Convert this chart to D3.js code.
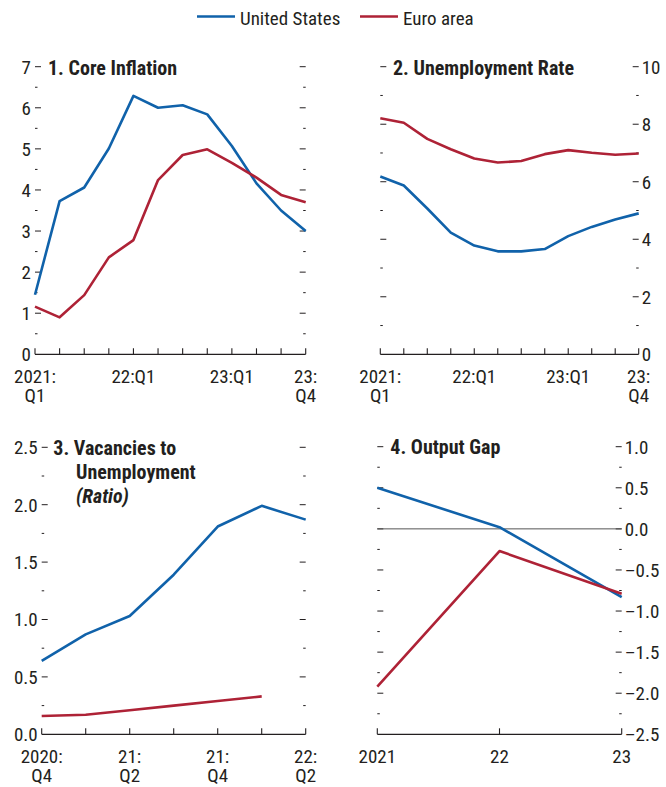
<!DOCTYPE html>
<meta charset="utf-8">
<head>
<style>
body { margin: 0; background: #fff; }
svg text {
  font-family: "Liberation Sans Narrow", "Arial Narrow", "Roboto Condensed", sans-serif;
  fill: #231f20;
}
.lbl { font-size: 19px; }
.ttl { font-size: 20px; font-weight: bold; }
.leg { font-size: 19px; }
</style>
<title>Core inflation, unemployment, vacancies, output gap</title>
</head>
<body>
<svg id="chart" width="666" height="787"></svg>
<script src="https://cdnjs.cloudflare.com/ajax/libs/d3/7.8.5/d3.min.js"></script>
<script>
// ---- data ----
var quarters = ["2021:Q1","2021:Q2","2021:Q3","2021:Q4","2022:Q1","2022:Q2","2022:Q3","2022:Q4","2023:Q1","2023:Q2","2023:Q3","2023:Q4"];
var quarterLabels = {"2021:Q1": ["2021:", "Q1"], "2022:Q1": ["22:Q1"], "2023:Q1": ["23:Q1"], "2023:Q4": ["23:", "Q4"]};

var coreUS = [1.45, 3.73, 4.06, 5.01, 6.29, 6.00, 6.06, 5.84, 5.07, 4.16, 3.50, 3.00];
var coreEA = [1.16, 0.90, 1.44, 2.36, 2.78, 4.24, 4.85, 4.99, 4.66, 4.30, 3.88, 3.70];

var unempUS = [6.18, 5.87, 5.07, 4.23, 3.78, 3.58, 3.58, 3.66, 4.11, 4.43, 4.69, 4.90];
var unempEA = [8.21, 8.05, 7.49, 7.13, 6.81, 6.67, 6.72, 6.96, 7.10, 7.01, 6.94, 6.98];

var vuQuarters = ["2020:Q4","2021:Q1","2021:Q2","2021:Q3","2021:Q4","2022:Q1","2022:Q2"];
var vuLabels = {"2020:Q4": ["2020:", "Q4"], "2021:Q2": ["21:", "Q2"], "2021:Q4": ["21:", "Q4"], "2022:Q2": ["22:", "Q2"]};
var vuUS = [0.64, 0.87, 1.03, 1.39, 1.81, 1.99, 1.87];
var vuEA = [0.16, 0.17, 0.21, 0.25, 0.29, 0.33, null];

var gapYears = ["2021", "2022", "2023"];
var gapLabels = {"2021": ["2021"], "2022": ["22"], "2023": ["23"]};
var gapUS = [0.50, 0.02, -0.83];
var gapEA = [-1.92, -0.27, -0.79];

var seriesNames = ["United States", "Euro area"];
var colors = {"United States": "#1062aa", "Euro area": "#ae2236"};

// ---- drawing ----
var svg = d3.select("#chart");
var ink = "#231f20";

function fmtNum(dec) {
  return function(v) {
    var s = dec ? v.toFixed(1) : String(Math.round(v));
    return s.replace("-", "\u2013");
  };
}

function drawPanel(p) {
  var g = svg.append("g");
  var x = d3.scalePoint().domain(p.cats).range([p.x0, p.x1]);
  var y = d3.scaleLinear().domain(p.domain).range([p.yBot, p.yTop]);

  // y ticks both sides, pointing inward
  var minor = d3.range(p.domain[0], p.domain[1] + 1e-9, p.minor);
  minor.forEach(function(v) {
    if (Math.abs(v - p.domain[0]) < 1e-9) return;
    var isMajor = Math.abs(v / p.major - Math.round(v / p.major)) < 1e-6;
    var len = isMajor ? 6 : 2.5;
    g.append("line").attr("x1", p.x0).attr("x2", p.x0 + len)
      .attr("y1", y(v)).attr("y2", y(v)).attr("stroke", ink).attr("stroke-width", 1);
    g.append("line").attr("x1", p.x1 - len).attr("x2", p.x1)
      .attr("y1", y(v)).attr("y2", y(v)).attr("stroke", ink).attr("stroke-width", 1);
  });

  // y labels
  var majors = d3.range(p.domain[0], p.domain[1] + 1e-9, p.major);
  g.selectAll(".ylab").data(majors).enter().append("text")
    .attr("class", "lbl")
    .attr("x", p.side === "left" ? p.x0 - 4 : p.x1 + 3)
    .attr("y", function(d) { return y(d); })
    .attr("dy", "0.36em")
    .attr("text-anchor", p.side === "left" ? "end" : "start")
    .text(fmtNum(p.dec));

  // zero line
  if (p.domain[0] < 0) {
    g.append("line").attr("x1", p.x0).attr("x2", p.x1)
      .attr("y1", y(0)).attr("y2", y(0)).attr("stroke", "#555").attr("stroke-width", 1);
  }

  // x axis
  g.append("line").attr("x1", p.x0).attr("x2", p.x1)
    .attr("y1", p.yBot).attr("y2", p.yBot).attr("stroke", ink).attr("stroke-width", 1.3);
  p.cats.forEach(function(c) {
    g.append("line").attr("x1", x(c)).attr("x2", x(c))
      .attr("y1", p.yBot).attr("y2", p.yBot - 6).attr("stroke", ink).attr("stroke-width", 1.1);
  });
  Object.keys(p.xlabels).forEach(function(c) {
    p.xlabels[c].forEach(function(line, i) {
      g.append("text").attr("class", "lbl")
        .attr("x", x(c)).attr("y", p.yBot + 28.5 + i * 19.5)
        .attr("text-anchor", "middle").text(line);
    });
  });

  // lines
  var line = d3.line()
    .defined(function(d) { return d.v != null; })
    .x(function(d) { return x(d.c); })
    .y(function(d) { return y(d.v); });
  p.series.forEach(function(s) {
    var pts = s.values.map(function(v, i) { return {c: p.cats[i], v: v}; });
    g.append("path").datum(pts)
      .attr("d", line)
      .attr("fill", "none")
      .attr("stroke", colors[s.name])
      .attr("stroke-width", 2.6)
      .attr("stroke-linejoin", "round");
  });

  // title
  p.title.forEach(function(l) {
    g.append("text").attr("class", "ttl").attr("x", l.x).attr("y", l.y)
      .style("font-style", l.italic ? "italic" : null).text(l.t);
  });
}

drawPanel({
  cats: quarters, xlabels: quarterLabels,
  x0: 35, x1: 305.7, yTop: 66.7, yBot: 354.3,
  domain: [0, 7], major: 1, minor: 0.5, side: "left", dec: false,
  series: [{name: "United States", values: coreUS}, {name: "Euro area", values: coreEA}],
  title: [{t: "1. Core Inflation", x: 48, y: 74.5}]
});

drawPanel({
  cats: quarters, xlabels: quarterLabels,
  x0: 380.3, x1: 638.7, yTop: 66.7, yBot: 354.3,
  domain: [0, 10], major: 2, minor: 1, side: "right", dec: false,
  series: [{name: "United States", values: unempUS}, {name: "Euro area", values: unempEA}],
  title: [{t: "2. Unemployment Rate", x: 393, y: 74.5}]
});

drawPanel({
  cats: vuQuarters, xlabels: vuLabels,
  x0: 41.7, x1: 305.7, yTop: 447.3, yBot: 734.3,
  domain: [0, 2.5], major: 0.5, minor: 0.25, side: "left", dec: true,
  series: [{name: "United States", values: vuUS}, {name: "Euro area", values: vuEA}],
  title: [{t: "3. Vacancies to", x: 53.3, y: 455}, {t: "Unemployment", x: 76, y: 479},
          {t: "(Ratio)", x: 76, y: 503, italic: true}]
});

drawPanel({
  cats: gapYears, xlabels: gapLabels,
  x0: 377.3, x1: 621.7, yTop: 446.7, yBot: 734.3,
  domain: [-2.5, 1], major: 0.5, minor: 0.25, side: "right", dec: true,
  series: [{name: "United States", values: gapUS}, {name: "Euro area", values: gapEA}],
  title: [{t: "4. Output Gap", x: 390.3, y: 454}]
});

// legend
var legX = [197, 360];
seriesNames.forEach(function(n, i) {
  svg.append("line").attr("x1", legX[i]).attr("x2", legX[i] + 38)
    .attr("y1", 16.5).attr("y2", 16.5).attr("stroke", colors[n]).attr("stroke-width", 2.6);
  svg.append("text").attr("class", "leg").attr("x", legX[i] + 43).attr("y", 24.5).text(n);
});
</script>
</body>
